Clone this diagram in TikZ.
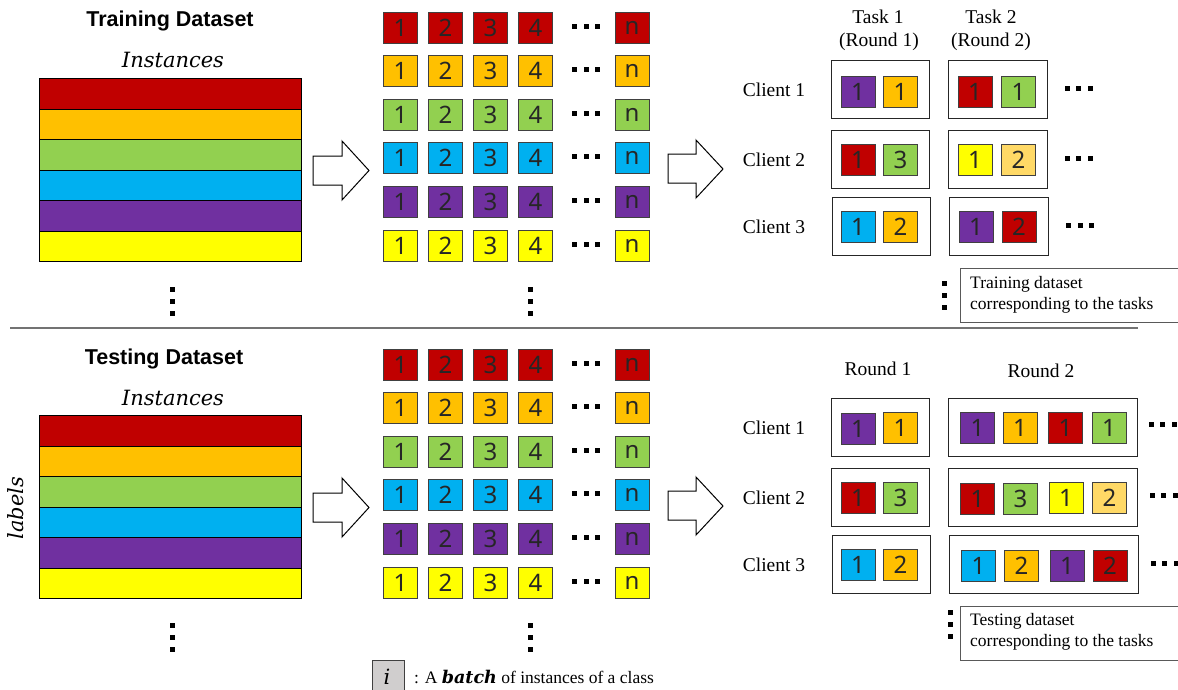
\documentclass[tikz,border=0pt]{standalone}
\usepackage{fontspec}
\setmainfont{Liberation Serif}
\newfontfamily\titlefont{Liberation Sans}
\newfontfamily\numfont{Noto Sans}
\newfontfamily\mitfont{DejaVu Serif}
\definecolor{cred}{HTML}{C00000}
\definecolor{corange}{HTML}{FFC000}
\definecolor{cgreen}{HTML}{92D050}
\definecolor{cblue}{HTML}{00B0F0}
\definecolor{cpurple}{HTML}{7030A0}
\definecolor{cyellow}{HTML}{FFFF00}
\definecolor{clorange}{HTML}{FFD966}
\definecolor{clegend}{HTML}{D0CECE}
\newcommand\hdd[2]{\foreach \k in {-11.5,0,11.5}{\fill ({#1+\k-2.5},{#2-2.5}) rectangle ++(5,5);}}
\newcommand\vdd[2]{\foreach \k in {-12,0,12}{\fill ({#1-2.5},{#2+\k-2.5}) rectangle ++(5,5);}}
\begin{document}
\begin{tikzpicture}[x=1pt,y=-1pt,
  cell/.style={draw=black!75, line width=1pt, minimum width=34pt, minimum height=31pt, inner sep=0pt,
    font=\numfont\fontsize{24}{24}\selectfont, text=black!85},
  stripe/.style={draw=black, line width=0.9pt, minimum width=262pt, minimum height=30.5pt, inner sep=0pt, anchor=north west},
  groupbox/.style={draw=black!85, line width=1pt, minimum height=58pt, inner sep=0pt},
  lbl/.style={font=\fontsize{19.5}{20}\selectfont, inner sep=0pt},
  ttl/.style={font=\titlefont\bfseries\fontsize{21.5}{22}\selectfont, inner sep=0pt},
  inst/.style={font=\mitfont\itshape\fontsize{21}{22}\selectfont, inner sep=0pt},
  note/.style={draw=black!65, line width=1pt, minimum width=230pt, minimum height=54pt, anchor=north west, inner sep=0pt},
  notetext/.style={font=\fontsize{17.5}{21.5}\selectfont, align=left, anchor=north west, inner sep=0pt},
  barrow/.style={draw=black, line width=1pt, fill=white, line join=miter}
]
\useasboundingbox (0,0) rectangle (1178,689);

% ---------------- headers ----------------
\node[ttl] (ttrain) at (170,21) {Training Dataset};
\node[inst] (itrain) at (173,60) {Instances};
\node[ttl] (ttest) at (164,359) {Testing Dataset};
\node[inst] (itest) at (173,398) {Instances};
\node[inst, rotate=90] (labels) at (16,508) {labels};

% ---------------- stripes ----------------
\foreach \c [count=\r] in {cred,corange,cgreen,cblue,cpurple,cyellow}{
  \node[stripe, fill=\c] (sa\r) at (39,{78+(\r-1)*30.5}) {};
  \node[stripe, fill=\c] (sb\r) at (39,{415+(\r-1)*30.5}) {};
}
\vdd{172}{301}
\vdd{172}{637}

% ---------------- block arrows ----------------
\foreach \dy in {0,337}{
  \draw[barrow] (313,156+\dy) -- (342,156+\dy) -- (342,141+\dy) -- (369,170.5+\dy) -- (342,200+\dy) -- (342,185+\dy) -- (313,185+\dy) -- cycle;
  \draw[barrow] (668,154+\dy) -- (696,154+\dy) -- (696,140+\dy) -- (723,169+\dy) -- (696,198+\dy) -- (696,183+\dy) -- (668,183+\dy) -- cycle;
}

% ---------------- grids ----------------
\foreach \c [count=\r] in {cred,corange,cgreen,cblue,cpurple,cyellow}{
  \pgfmathsetmacro\ya{27.5+(\r-1)*43.6}
  \pgfmathsetmacro\yb{\ya+337}
  \foreach \n/\x in {1/400.5,2/445.5,3/490.5,4/535.5,n/632}{
    \node[cell, fill=\c] (ga\r\n) at (\x,\ya) {\n};
    \node[cell, fill=\c] (gb\r\n) at (\x,\yb) {\n};
  }
  \hdd{586}{\ya-1.5}
  \hdd{586}{\yb-1.5}
}
\vdd{530}{301}
\vdd{530}{637.5}

% ---------------- top right: tasks ----------------
\node[lbl] (task1) at (878,17) {Task 1};
\node[lbl] (round1a) at (879,42) {(Round 1)};
\node[lbl] (task2) at (991,17) {Task 2};
\node[lbl] (round2a) at (991,42) {(Round 2)};

\node[lbl] (ca1) at (774,90) {Client 1};
\node[lbl] (ca2) at (774,160) {Client 2};
\node[lbl] (ca3) at (774,227) {Client 3};

\node[groupbox, minimum width=98pt] (ta11) at (880,89) {};
\node[groupbox, minimum width=99pt] (ta12) at (997.5,89) {};
\node[groupbox, minimum width=98pt] (ta21) at (880,159) {};
\node[groupbox, minimum width=99pt] (ta22) at (997.5,159) {};
\node[groupbox, minimum width=98pt] (ta31) at (881,226.5) {};
\node[groupbox, minimum width=99pt] (ta32) at (998.5,226.5) {};

\node[cell, fill=cpurple] (xa1a) at (858,91.5) {1};
\node[cell, fill=corange] (xa1b) at (900.5,91.5) {1};
\node[cell, fill=cred] (xa1c) at (975,91.5) {1};
\node[cell, fill=cgreen] (xa1d) at (1018.5,91.5) {1};

\node[cell, fill=cred] (xa2a) at (858,160) {1};
\node[cell, fill=cgreen] (xa2b) at (900.5,160) {3};
\node[cell, fill=cyellow] (xa2c) at (975,160) {1};
\node[cell, fill=clorange] (xa2d) at (1018.5,160) {2};

\node[cell, fill=cblue] (xa3a) at (858,227) {1};
\node[cell, fill=corange] (xa3b) at (900.5,227) {2};
\node[cell, fill=cpurple] (xa3c) at (976,227) {1};
\node[cell, fill=cred] (xa3d) at (1019,227) {2};

\hdd{1078.5}{88.5}
\hdd{1078.5}{158}
\hdd{1080}{225.5}

\vdd{944}{295}
\node[note] (notea) at (960,268) {};
\node[notetext] (noteatext) at (970,276) {Training dataset\\corresponding to the tasks};

% separator
\draw[black!55, line width=1.2pt] (10,328) -- (1138,328);

% ---------------- bottom right: rounds ----------------
\node[lbl] (round1b) at (878,369) {Round 1};
\node[lbl] (round2b) at (1041,371) {Round 2};

\node[lbl] (cb1) at (774,428) {Client 1};
\node[lbl] (cb2) at (774,498) {Client 2};
\node[lbl] (cb3) at (774,565) {Client 3};

\node[groupbox, minimum width=98pt] (tb11) at (880,427) {};
\node[groupbox, minimum width=189pt] (tb12) at (1042.5,427) {};
\node[groupbox, minimum width=98pt] (tb21) at (880,497) {};
\node[groupbox, minimum width=189pt] (tb22) at (1043,497) {};
\node[groupbox, minimum width=98pt] (tb31) at (881,564) {};
\node[groupbox, minimum width=189pt] (tb32) at (1043.5,564) {};

\node[cell, fill=cpurple] (xb1a) at (858,429) {1};
\node[cell, fill=corange] (xb1b) at (900.5,428) {1};
\node[cell, fill=cpurple] (xb1c) at (977.5,428) {1};
\node[cell, fill=corange] (xb1d) at (1020,428) {1};
\node[cell, fill=cred] (xb1e) at (1065.5,428) {1};
\node[cell, fill=cgreen] (xb1f) at (1109,428) {1};

\node[cell, fill=cred] (xb2a) at (858,498) {1};
\node[cell, fill=cgreen] (xb2b) at (900.5,498) {3};
\node[cell, fill=cred] (xb2c) at (977.5,499) {1};
\node[cell, fill=cgreen] (xb2d) at (1020.5,499) {3};
\node[cell, fill=cyellow] (xb2e) at (1066,498) {1};
\node[cell, fill=clorange] (xb2f) at (1109.5,498) {2};

\node[cell, fill=cblue] (xb3a) at (858,565) {1};
\node[cell, fill=corange] (xb3b) at (900.5,565) {2};
\node[cell, fill=cblue] (xb3c) at (978.5,566) {1};
\node[cell, fill=corange] (xb3d) at (1021.5,566) {2};
\node[cell, fill=cpurple] (xb3e) at (1067,566) {1};
\node[cell, fill=cred] (xb3f) at (1110,566) {2};

\hdd{1162.5}{424.5}
\hdd{1163.5}{495.5}
\hdd{1164.5}{563.5}

\vdd{950}{624}
\node[note] (noteb) at (960,606) {};
\node[notetext] (notebtext) at (970,613) {Testing dataset\\corresponding to the tasks};

% ---------------- legend ----------------
\node[draw=black!75, fill=clegend, line width=1pt, minimum width=32pt, minimum height=34pt, anchor=north west, inner sep=0pt] (legbox) at (372,660) {};
\node[font=\mitfont\itshape\fontsize{21}{21}\selectfont, inner sep=0pt] (legi) at (387,677) {i};
\node[font=\fontsize{17.5}{20}\selectfont, anchor=west, inner sep=0pt] (legtext) at (414,677) {: A {\mitfont\bfseries\itshape batch} of instances of a class};
\end{tikzpicture}
\end{document}
